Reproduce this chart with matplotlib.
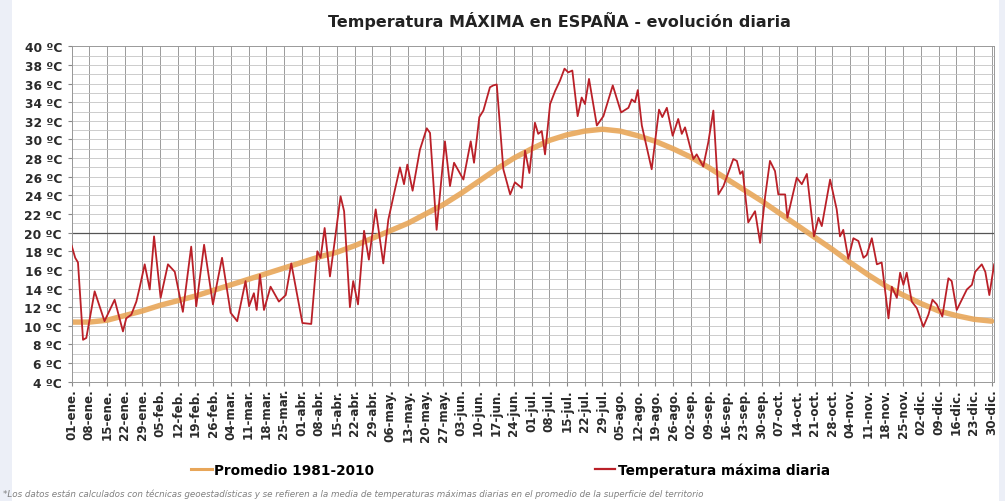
import numpy as np
import matplotlib.pyplot as plt
from matplotlib.lines import Line2D

# weekly tick labels (leap year, day 0 = 01-ene)
tick_days = list(range(0, 365, 7))
tick_labels = ['01-ene.', '08-ene.', '15-ene.', '22-ene.', '29-ene.', '05-feb.', '12-feb.',
               '19-feb.', '26-feb.', '04-mar.', '11-mar.', '18-mar.', '25-mar.', '01-abr.',
               '08-abr.', '15-abr.', '22-abr.', '29-abr.', '06-may.', '13-may.', '20-may.',
               '27-may.', '03-jun.', '10-jun.', '17-jun.', '24-jun.', '01-jul.', '08-jul.',
               '15-jul.', '22-jul.', '29-jul.', '05-ago.', '12-ago.', '19-ago.', '26-ago.',
               '02-sep.', '09-sep.', '16-sep.', '23-sep.', '30-sep.', '07-oct.', '14-oct.',
               '21-oct.', '28-oct.', '04-nov.', '11-nov.', '18-nov.', '25-nov.', '02-dic.',
               '09-dic.', '16-dic.', '23-dic.', '30-dic.']

# Promedio 1981-2010, read at each weekly tick
promedio = [10.4, 10.4, 10.6, 11.1, 11.6, 12.2, 12.7, 13.2, 13.8, 14.4, 15.0, 15.6, 16.2, 16.8,
            17.4, 17.9, 18.6, 19.4, 20.2, 21.0, 22.0, 23.0, 24.2, 25.5, 26.8, 28.0, 29.0, 29.9,
            30.5, 30.9, 31.1, 30.9, 30.4, 29.8, 29.0, 28.1, 27.0, 25.8, 24.6, 23.4, 22.1, 20.8,
            19.5, 18.2, 16.8, 15.5, 14.3, 13.3, 12.4, 11.6, 11.1, 10.7, 10.5]

# Temperatura maxima diaria (day, value)
dias = [0, 1.4, 2.5, 4.5, 5.8, 9.1, 13, 17, 20.3, 21.6, 23.6, 25.6, 26.9, 28.9, 30.9, 32.6,
        35.2, 38.1, 40.8, 44, 47.3, 49.3, 52.4, 55.9, 59.5, 62.9, 65.5, 68.8, 70.2, 72.1,
        73.2, 74.5, 76.1, 78.7, 82, 84.7, 86.9, 89.3, 91.3, 94.8, 97.2, 98.5, 100.1, 102.2,
        103.8, 106.4, 107.8, 110.1, 111.4, 113.3, 115.7, 117.6, 120.3, 123.3, 125.3, 127.9,
        129.9, 131.5, 132.8, 134.9, 137.8, 140.5, 141.8, 144.4, 147.7, 149.7, 151.3, 155,
        157.9, 159.2, 161.3, 162.9, 165.5, 166.8, 168.2, 170.8, 173.5, 175.4, 178.1, 179.4,
        181.1, 183.3, 184.6, 186, 187.3, 189.3, 191.3, 193.2, 195, 196.5, 198.1, 200.2,
        201.8, 203.1, 204.7, 207.8, 210.4, 214.1, 217.4, 220.3, 221.6, 222.9, 224, 225.6,
        228.2, 229.5, 232.4, 233.7, 235.5, 237.8, 240, 241.4, 242.7, 244.7, 246, 247.3,
        249.9, 251.9, 253.9, 255.9, 257.9, 261.8, 263.2, 264.5, 265.5, 267.7, 270.4, 272.4,
        274.4, 276.3, 278.3, 279.6, 282.3, 283.2, 286.9, 288.9, 290.9, 293.7, 295.5, 296.8,
        300.1, 302.7, 304, 305.3, 307.3, 309.3, 311.3, 313.3, 314.6, 316.6, 318.6, 320.5,
        323.2, 324.5, 326.5, 327.8, 329.1, 330.4, 332.4, 334.4, 337, 339, 340.6, 342.3,
        344.5, 346.9, 348.2, 350.2, 352.2, 354.2, 356.2, 357.5, 360.1, 361.5, 363.1, 365]
tmax = [18.6, 17.3, 16.8, 8.5, 8.7, 13.7, 10.5, 12.8, 9.4, 10.8, 11.2, 12.6, 14.1, 16.6, 13.9,
        19.6, 13.0, 16.6, 15.8, 11.5, 18.5, 12.1, 18.7, 12.3, 17.3, 11.4, 10.5, 14.8, 12.1,
        13.5, 11.7, 15.5, 11.7, 14.2, 12.6, 13.3, 16.7, 13.2, 10.3, 10.2, 18.0, 17.3, 20.5,
        15.3, 18.5, 23.9, 22.3, 12.0, 14.8, 12.3, 20.2, 17.1, 22.5, 16.7, 21.4, 24.6, 27.0,
        25.2, 27.3, 24.5, 28.9, 31.2, 30.7, 20.3, 29.8, 25.0, 27.5, 25.7, 29.8, 27.5, 32.4,
        33.1, 35.6, 35.8, 35.9, 26.8, 24.1, 25.4, 24.8, 28.8, 26.4, 31.8, 30.6, 30.9, 28.4,
        33.8, 35.2, 36.3, 37.6, 37.2, 37.4, 32.5, 34.5, 33.8, 36.5, 31.5, 32.5, 35.8, 32.9,
        33.4, 34.3, 34.0, 35.3, 31.5, 28.4, 26.8, 33.2, 32.4, 33.4, 30.4, 32.2, 30.6, 31.3,
        29.2, 27.9, 28.4, 27.1, 29.7, 33.1, 24.1, 25.0, 27.9, 27.7, 26.3, 26.6, 21.1, 22.3,
        18.9, 23.9, 27.7, 26.6, 24.1, 24.1, 21.6, 25.9, 25.2, 26.3, 19.6, 21.6, 20.7, 25.7,
        22.5, 19.6, 20.3, 17.2, 19.4, 19.1, 17.3, 17.6, 19.4, 16.6, 16.8, 10.8, 14.2, 13.0,
        15.7, 14.4, 15.7, 12.6, 11.9, 9.9, 11.2, 12.8, 12.3, 11.0, 15.1, 14.8, 11.7, 12.8,
        13.9, 14.4, 15.8, 16.6, 15.8, 13.3, 16.6]

y_ticks = list(range(4, 41, 2))

fig = plt.figure(figsize=(10.05, 5.02), dpi=100, facecolor='#eceff7')
# white page area inside the light border
fig.patches.append(plt.Rectangle((0.012, 0.0), 0.982, 1.0, transform=fig.transFigure,
                                 facecolor='white', edgecolor='none', zorder=-5))

ax = fig.add_axes([0.0713, 0.2376, 0.9179, 0.6682])
ax.set_zorder(2)
ax.set_facecolor('white')

# grid: weekly vertical lines, 1 degree horizontal lines
for d in tick_days:
    ax.axvline(d, color='#9a9a9a', lw=0.7, zorder=1)
for t in range(5, 40):
    ax.axhline(t, color='#c4c4c4' if t != 20 else '#555555', lw=0.6 if t != 20 else 0.9, zorder=1)

ax.plot(np.array(tick_days), promedio, color='#E8A659', lw=3.9, solid_capstyle='round',
        alpha=0.9, zorder=2)
ax.plot(dias, tmax, color='#BA2028', lw=1.3, zorder=3)

ax.set_xlim(0, 365)
ax.set_ylim(4, 40)
ax.set_xticks(tick_days)
ax.set_xticklabels(tick_labels, rotation=90, fontsize=8.6, fontweight='bold', color='#2a2a2a')
ax.set_yticks(y_ticks)
ax.set_yticklabels(['%d ºC' % t for t in y_ticks], fontsize=8.8, fontweight='bold', color='#2a2a2a')
ax.tick_params(axis='x', length=3, pad=1.5, color='#888888')
ax.tick_params(axis='y', length=3, pad=4, color='#888888')
for s in ax.spines.values():
    s.set_color('#999999')
    s.set_linewidth(0.7)

fig.text(0.557, 0.958, 'Temperatura MÁXIMA en ESPAÑA - evolución diaria', ha='center', va='center',
         fontsize=11.5, fontweight='bold', color='#222222')

handles = [Line2D([], [], color='#E8A659', lw=2.2), Line2D([], [], color='#BA2028', lw=1.6)]
fig.legend(handles, ['Promedio 1981-2010', 'Temperatura máxima diaria'], loc='center',
           bbox_to_anchor=(0.508, 0.062), ncol=2, frameon=False, prop={'size': 9.8, 'weight': 'bold'},
           handlelength=1.5, handletextpad=0.2, columnspacing=16.2)

fig.text(0.003, 0.016, '*Los datos están calculados con técnicas geoestadísticas y se refieren a la media '
         'de temperaturas máximas diarias en el promedio de la superficie del territorio',
         ha='left', va='center', fontsize=6.3, style='italic', color='#808080')

fig.savefig('out.png', dpi=100, facecolor=fig.get_facecolor())
